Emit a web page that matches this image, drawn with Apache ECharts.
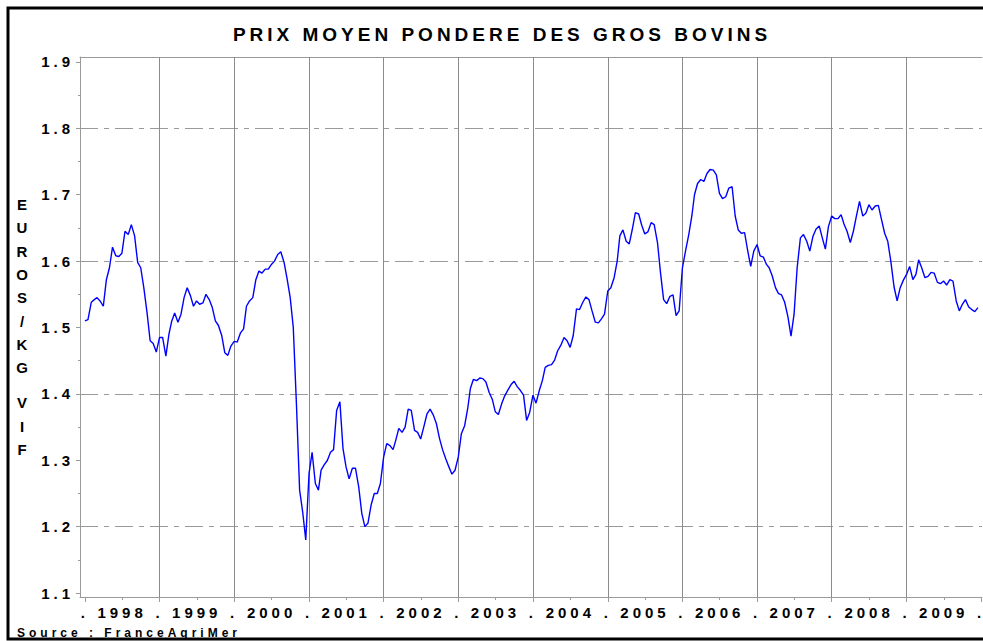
<!DOCTYPE html>
<html>
<head>
<meta charset="utf-8">
<title>Prix moyen pondéré des gros bovins</title>
<script src="https://cdn.jsdelivr.net/npm/echarts@6/dist/echarts.min.js"></script>
<style>
  html, body { margin: 0; padding: 0; background: #fff; }
  #chart { width: 983px; height: 641px; }
  /* le graphique SAS espace toutes les lettres */
  #chart text { letter-spacing: 4px; }
</style>
</head>
<body>
<div id="chart"></div>
<script>
// Prix moyen pondéré des gros bovins, euros/kg vif
// une valeur le 1er et le 16 de chaque mois
const years = [1998, 1999, 2000, 2001, 2002, 2003, 2004, 2005, 2006, 2007, 2008, 2009];

const price1998 = [1.510, 1.512, 1.538, 1.542, 1.545, 1.540, 1.532, 1.572, 1.590, 1.621, 1.608, 1.607,
  1.612, 1.645, 1.640, 1.655, 1.638, 1.598, 1.590, 1.560, 1.522, 1.480, 1.476, 1.463];
const price1999 = [1.485, 1.485, 1.457, 1.490, 1.509, 1.522, 1.508, 1.520, 1.545, 1.560, 1.548, 1.532,
  1.540, 1.535, 1.537, 1.550, 1.542, 1.530, 1.510, 1.503, 1.488, 1.462, 1.458, 1.472];
const price2000 = [1.479, 1.478, 1.492, 1.498, 1.532, 1.540, 1.545, 1.572, 1.585, 1.582, 1.588, 1.588,
  1.595, 1.600, 1.610, 1.614, 1.598, 1.573, 1.545, 1.500, 1.380, 1.255, 1.222, 1.180];
const price2001 = [1.280, 1.312, 1.265, 1.255, 1.285, 1.293, 1.300, 1.312, 1.316, 1.375, 1.388, 1.318,
  1.290, 1.272, 1.288, 1.288, 1.260, 1.220, 1.200, 1.205, 1.233, 1.250, 1.250, 1.265];
const price2002 = [1.305, 1.325, 1.322, 1.316, 1.330, 1.348, 1.342, 1.350, 1.377, 1.375, 1.345, 1.342,
  1.332, 1.350, 1.370, 1.377, 1.368, 1.355, 1.333, 1.316, 1.302, 1.290, 1.279, 1.285];
const price2003 = [1.305, 1.340, 1.352, 1.378, 1.408, 1.422, 1.420, 1.424, 1.423, 1.418, 1.402, 1.392,
  1.373, 1.369, 1.385, 1.397, 1.406, 1.414, 1.419, 1.411, 1.405, 1.398, 1.360, 1.372];
const price2004 = [1.398, 1.386, 1.405, 1.420, 1.440, 1.443, 1.444, 1.451, 1.465, 1.473, 1.485, 1.480,
  1.470, 1.488, 1.528, 1.527, 1.538, 1.546, 1.542, 1.525, 1.508, 1.507, 1.513, 1.520];
const price2005 = [1.555, 1.560, 1.575, 1.600, 1.638, 1.647, 1.630, 1.626, 1.648, 1.673, 1.671, 1.654,
  1.641, 1.644, 1.658, 1.655, 1.628, 1.582, 1.542, 1.536, 1.547, 1.549, 1.518, 1.525];
const price2006 = [1.590, 1.615, 1.640, 1.668, 1.700, 1.717, 1.723, 1.720, 1.732, 1.738, 1.737, 1.730,
  1.702, 1.694, 1.697, 1.710, 1.712, 1.668, 1.647, 1.642, 1.643, 1.616, 1.592, 1.615];
const price2007 = [1.625, 1.608, 1.606, 1.595, 1.590, 1.578, 1.560, 1.551, 1.549, 1.538, 1.516, 1.487,
  1.520, 1.590, 1.635, 1.640, 1.630, 1.615, 1.637, 1.648, 1.653, 1.635, 1.618, 1.652];
const price2008 = [1.668, 1.664, 1.664, 1.670, 1.656, 1.645, 1.628, 1.645, 1.668, 1.690, 1.668, 1.672,
  1.685, 1.677, 1.683, 1.684, 1.662, 1.642, 1.630, 1.600, 1.561, 1.540, 1.560, 1.571];
const price2009 = [1.580, 1.592, 1.572, 1.580, 1.602, 1.590, 1.575, 1.577, 1.583, 1.582, 1.568, 1.566,
  1.570, 1.564, 1.572, 1.570, 1.540, 1.525, 1.535, 1.542, 1.531, 1.527, 1.524, 1.530];

const pricesByYear = [price1998, price1999, price2000, price2001, price2002, price2003,
  price2004, price2005, price2006, price2007, price2008, price2009];

// axe vertical
const yTicks = [1.1, 1.2, 1.3, 1.4, 1.5, 1.6, 1.7, 1.8, 1.9];
const yMinorTicks = [1.15, 1.25, 1.35, 1.45, 1.55, 1.65, 1.75, 1.85];
const gridLevels = [1.2, 1.4, 1.6, 1.8];

const FONT = '"Liberation Sans", Arial, sans-serif';
const GREY = "#9a9a9a";

function day(y, m, d) {
  return new Date(y, m, d).getTime();
}

// bornes des années (traits) et milieux (libellés)
const yearStarts = years.map((y) => day(y, 0, 1)).concat([day(2010, 0, 1)]);
const yearMiddles = years.map((y) => day(y, 6, 2));
const yearLines = yearStarts.slice(1, -1);

const seriesData = [];
years.forEach((y, i) => {
  pricesByYear[i].forEach((v, k) => {
    seriesData.push([day(y, Math.floor(k / 2), k % 2 ? 16 : 1), v]);
  });
});

const xMin = day(1997, 11, 8);
const xMax = day(2010, 0, 5);

const chart = echarts.init(document.getElementById("chart"), null, { renderer: "svg" });

const option = {
  animation: false,
  backgroundColor: "#fff",
  title: [
    {
      text: "PRIX MOYEN PONDERE DES GROS BOVINS",
      left: 502,
      top: 25,
      textAlign: "center",
      padding: 0,
      textStyle: { fontFamily: FONT, fontSize: 19, fontWeight: "bold", color: "#000" },
    },
    {
      text: "Source : FranceAgriMer",
      left: 17,
      top: 627,
      padding: 0,
      textStyle: { fontFamily: FONT, fontSize: 12, fontWeight: "bold", color: "#000" },
    },
  ],
  grid: { left: 80, right: 1, top: 57, bottom: 44, containLabel: false, outerBoundsMode: "none" },
  xAxis: [
    {
      // dates en millisecondes
      type: "value",
      min: xMin,
      max: xMax,
      position: "bottom",
      axisLine: { show: true, lineStyle: { color: GREY, width: 1 } },
      axisTick: { show: true, customValues: yearStarts, length: 5, lineStyle: { color: GREY } },
      axisLabel: {
        customValues: yearStarts.concat(yearMiddles),
        margin: 8,
        fontFamily: FONT,
        fontSize: 15,
        fontWeight: "bold",
        color: "#000",
        formatter: function (value) {
          const d = new Date(value);
          return d.getMonth() === 0 ? "." : String(d.getFullYear());
        },
      },
      splitLine: { show: false },
    },
    {
      // petits traits au milieu de chaque année
      type: "value",
      min: xMin,
      max: xMax,
      position: "bottom",
      axisLine: { show: false },
      axisTick: { show: true, customValues: yearMiddles, length: 3, lineStyle: { color: GREY } },
      axisLabel: { show: false },
      splitLine: { show: false },
    },
    {
      // bord supérieur du cadre
      type: "value",
      min: xMin,
      max: xMax,
      position: "top",
      axisLine: { show: true, lineStyle: { color: GREY, width: 1 } },
      axisTick: { show: false },
      axisLabel: { show: false },
      splitLine: { show: false },
    },
  ],
  yAxis: [
    {
      type: "value",
      min: 1.094,
      max: 1.9075,
      position: "left",
      axisLine: { show: true, lineStyle: { color: GREY, width: 1 } },
      axisTick: { show: true, customValues: yTicks, length: 4, lineStyle: { color: GREY } },
      axisLabel: {
        customValues: yTicks,
        margin: 6,
        fontFamily: FONT,
        fontSize: 15,
        fontWeight: "bold",
        color: "#000",
        formatter: (v) => v.toFixed(1),
      },
      splitLine: { show: false },
      name: "E\nU\nR\nO\nS\n/\nK\nG\n{gap| }\nV\nI\nF",
      nameLocation: "middle",
      nameRotate: 0,
      nameGap: 56,
      nameTextStyle: {
        fontFamily: FONT,
        fontSize: 15,
        fontWeight: "bold",
        color: "#000",
        align: "center",
        verticalAlign: "middle",
        lineHeight: 23.3,
        rich: { gap: { fontSize: 15, lineHeight: 12 } },
      },
    },
    {
      type: "value",
      min: 1.094,
      max: 1.9075,
      position: "left",
      axisLine: { show: false },
      axisTick: { show: true, customValues: yMinorTicks, length: 2, lineStyle: { color: GREY } },
      axisLabel: { show: false },
      splitLine: { show: false },
    },
  ],
  graphic: [
    {
      type: "rect",
      silent: true,
      z: 100,
      shape: { x: 8, y: 8, width: 1000, height: 631 },
      style: { fill: "none", stroke: "#000", lineWidth: 3 },
    },
  ],
  series: [
    {
      type: "line",
      xAxisIndex: 0,
      yAxisIndex: 0,
      data: seriesData,
      symbol: "none",
      lineStyle: { color: "#0000ff", width: 1.4 },
      z: 5,
      markLine: {
        silent: true,
        symbol: "none",
        label: { show: false },
        data: gridLevels
          .map((v) => ({ yAxis: v, lineStyle: { color: GREY, width: 1, type: [18, 6, 5, 6] } }))
          .concat(yearLines.map((t) => ({ xAxis: t, lineStyle: { color: "#8c8c8c", width: 1, type: "solid" } }))),
      },
    },
  ],
};

chart.setOption(option);
</script>
</body>
</html>
